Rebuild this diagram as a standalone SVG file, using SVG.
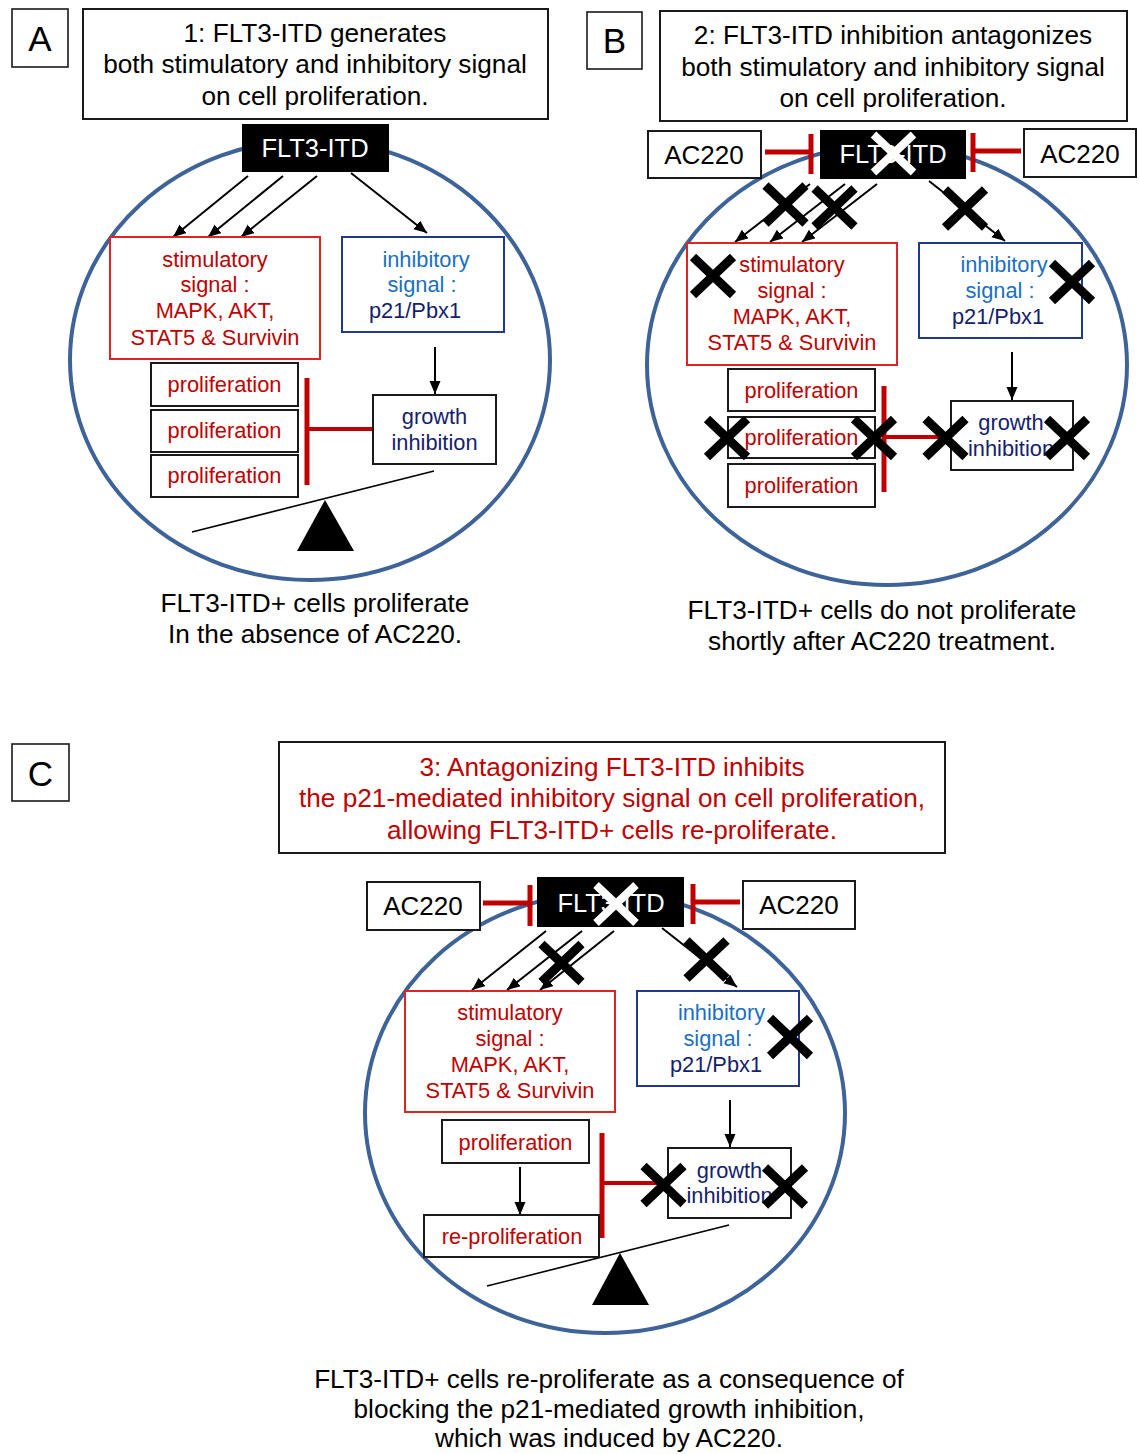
<svg xmlns="http://www.w3.org/2000/svg" xmlns:xlink="http://www.w3.org/1999/xlink" width="1140" height="1454" viewBox="0 0 1140 1454">
<style>
text{font-family:"Liberation Sans",Arial,sans-serif;text-anchor:middle}
.lbl{font-size:35px;fill:#000}
.hd{font-size:26.2px;fill:#000}
.hdr{font-size:26.2px;fill:#c00000}
.s{font-size:21.8px}
.ac{font-size:26px;fill:#000}
.fl{font-size:25.5px;fill:#fff}
.red{fill:#c00000}
.blue{fill:#1a6fc4}
.navy{fill:#14216b}
.box{fill:#fff;stroke:#1a1a1a;stroke-width:2}
.lb{fill:#fff;stroke:#1a1a1a;stroke-width:1.6}
.rbox{fill:#fff;stroke:#e02424;stroke-width:2}
.nbox{fill:#fff;stroke:#1f3a8a;stroke-width:2}
.blk{fill:#000;stroke:none}
.cell{fill:none;stroke:#3d6399;stroke-width:4}
.arr{stroke:#000;stroke-width:2;fill:none;marker-end:url(#ah)}
.inh{stroke:#c00000;stroke-width:5;fill:none}
.inh4{stroke:#c00000;stroke-width:4;fill:none}
.see{stroke:#000;stroke-width:1.6;fill:none}
.xb{stroke:#000;stroke-width:9;fill:none}
.xw{stroke:#fff;stroke-width:8;fill:none}
</style>
<defs>
<marker id="ah" markerUnits="userSpaceOnUse" markerWidth="14" markerHeight="12" refX="13" refY="5.5" orient="auto">
<path d="M0,0 L13,5.5 L0,11 z" fill="#000"/>
</marker>
<path id="xk" d="M-20,-19 L20,19 M-20,19 L20,-19"/>
</defs>

<!-- ===== Panel A ===== -->
<g id="panelA-label"><rect class="lb" x="12" y="9" width="56" height="58"/><text class="lbl" x="40" y="51">A</text></g>
<g id="panelA-header"><rect class="box" x="83" y="9" width="465" height="110"/>
<text class="hd" x="315" y="42">1: FLT3-ITD generates</text>
<text class="hd" x="315" y="73">both stimulatory and inhibitory signal</text>
<text class="hd" x="315" y="105">on cell proliferation.</text></g>
<g id="cellA"><ellipse class="cell" cx="310" cy="360" rx="240" ry="220"/></g>
<g id="A-seesaw"><line class="see" x1="192" y1="532" x2="434" y2="471"/><polygon class="blk" points="325,500 297,551 354,551"/></g>
<g id="A-connectors">
<line class="arr" x1="248" y1="176" x2="173" y2="237"/>
<line class="arr" x1="283" y1="176" x2="208" y2="237"/>
<line class="arr" x1="317" y1="176" x2="241" y2="237"/>
<line class="arr" x1="351" y1="173" x2="427" y2="233"/>
<line class="arr" x1="435" y1="347" x2="435" y2="394"/>
<line class="inh" x1="307" y1="378" x2="307" y2="485"/>
<line class="inh4" x1="307" y1="429" x2="373" y2="429"/>
</g>
<g id="A-flt3"><rect class="blk" x="242" y="124" width="147" height="48"/><text class="fl" x="315" y="157">FLT3-ITD</text></g>
<g id="A-stim"><rect class="rbox" x="110" y="237" width="210" height="122"/>
<text class="s red" x="215" y="266.5">stimulatory</text>
<text class="s red" x="215" y="292">signal :</text>
<text class="s red" x="215" y="318">MAPK, AKT,</text>
<text class="s red" x="215" y="345">STAT5 &amp; Survivin</text></g>
<g id="A-inhib"><rect class="nbox" x="342" y="237" width="162" height="95"/>
<text class="s blue" x="426" y="266.5">inhibitory</text>
<text class="s blue" x="422" y="292">signal :</text>
<text class="s navy" x="415" y="318">p21/Pbx1</text></g>
<g id="A-growth"><rect class="box" x="373" y="395" width="123" height="69"/>
<text class="s navy" x="434.5" y="424">growth</text>
<text class="s navy" x="434.5" y="450">inhibition</text></g>
<g id="A-prolif1"><rect class="box" x="151" y="363" width="147" height="43"/><text class="s red" x="224.5" y="392">proliferation</text></g>
<g id="A-prolif2"><rect class="box" x="151" y="410" width="147" height="42"/><text class="s red" x="224.5" y="438">proliferation</text></g>
<g id="A-prolif3"><rect class="box" x="151" y="455" width="147" height="42"/><text class="s red" x="224.5" y="483">proliferation</text></g>
<g id="A-caption"><text class="hd" x="315" y="612">FLT3-ITD+ cells proliferate</text><text class="hd" x="315" y="643">In the absence of AC220.</text></g>

<!-- ===== Panel B ===== -->
<g id="panelB-label"><rect class="lb" x="587" y="12" width="55" height="57"/><text class="lbl" x="614.5" y="53">B</text></g>
<g id="panelB-header"><rect class="box" x="660" y="11" width="467" height="110"/>
<text class="hd" x="893" y="44">2: FLT3-ITD inhibition antagonizes</text>
<text class="hd" x="893" y="76">both stimulatory and inhibitory signal</text>
<text class="hd" x="893" y="107">on cell proliferation.</text></g>
<g id="cellB"><ellipse class="cell" cx="887" cy="365" rx="240" ry="220"/></g>
<g id="B-connectors">
<line class="arr" x1="810" y1="184" x2="735" y2="242"/>
<line class="arr" x1="845" y1="184" x2="770" y2="242"/>
<line class="arr" x1="877" y1="184" x2="802" y2="242"/>
<line class="arr" x1="929" y1="181" x2="1005" y2="241"/>
<line class="arr" x1="1012" y1="352" x2="1012" y2="400"/>
<line class="inh" x1="884" y1="386" x2="884" y2="492"/>
<line class="inh4" x1="884" y1="437" x2="951" y2="437"/>
<line class="inh" x1="765" y1="152" x2="811" y2="152"/>
<line class="inh" x1="811" y1="134" x2="811" y2="174"/>
<line class="inh" x1="1021" y1="151" x2="973" y2="151"/>
<line class="inh" x1="973" y1="133" x2="973" y2="172"/>
</g>
<g id="B-ac220-left"><rect class="box" x="648" y="131" width="113" height="47"/><text class="ac" x="704" y="164">AC220</text></g>
<g id="B-ac220-right"><rect class="box" x="1024" y="129" width="112" height="48"/><text class="ac" x="1080" y="163">AC220</text></g>
<g id="B-flt3"><rect class="blk" x="820" y="130" width="146" height="49"/><text class="fl" x="893" y="163">FLT3-ITD</text><use href="#xk" x="893.5" y="153.5" class="xw"/></g>
<g id="B-stim"><rect class="rbox" x="687" y="243" width="210" height="122"/>
<text class="s red" x="792" y="272">stimulatory</text>
<text class="s red" x="792" y="298">signal :</text>
<text class="s red" x="792" y="324">MAPK, AKT,</text>
<text class="s red" x="792" y="350">STAT5 &amp; Survivin</text></g>
<g id="B-inhib"><rect class="nbox" x="919" y="243" width="163" height="95"/>
<text class="s blue" x="1004" y="272">inhibitory</text>
<text class="s blue" x="1000" y="298">signal :</text>
<text class="s navy" x="998" y="324">p21/Pbx1</text></g>
<g id="B-growth"><rect class="box" x="951" y="401" width="122" height="69"/>
<text class="s navy" x="1011" y="430">growth</text>
<text class="s navy" x="1011" y="456">inhibition</text></g>
<g id="B-prolif1"><rect class="box" x="728" y="369" width="147" height="42"/><text class="s red" x="801.5" y="398">proliferation</text></g>
<g id="B-prolif2"><rect class="box" x="728" y="417" width="147" height="41"/><text class="s red" x="801.5" y="445">proliferation</text></g>
<g id="B-prolif3"><rect class="box" x="728" y="464" width="147" height="43"/><text class="s red" x="801.5" y="493">proliferation</text></g>
<g id="B-crosses">
<use href="#xk" x="785.5" y="204.5" class="xb"/>
<use href="#xk" x="834.5" y="207.5" class="xb"/>
<use href="#xk" x="965" y="208.5" class="xb"/>
<use href="#xk" x="713" y="276" class="xb"/>
<use href="#xk" x="1072" y="282" class="xb"/>
<use href="#xk" x="727" y="438" class="xb"/>
<use href="#xk" x="874" y="438" class="xb"/>
<use href="#xk" x="945.5" y="438" class="xb"/>
<use href="#xk" x="1067" y="438" class="xb"/>
</g>
<g id="B-caption"><text class="hd" x="882" y="619">FLT3-ITD+ cells do not proliferate</text><text class="hd" x="882" y="650">shortly after AC220 treatment.</text></g>

<!-- ===== Panel C ===== -->
<g id="panelC-label"><rect class="lb" x="12" y="744" width="57" height="57"/><text class="lbl" x="40.5" y="786">C</text></g>
<g id="panelC-header"><rect class="box" x="279" y="742" width="666" height="111"/>
<text class="hdr" x="612" y="776">3: Antagonizing FLT3-ITD inhibits</text>
<text class="hdr" x="612" y="807">the p21-mediated inhibitory signal on cell proliferation,</text>
<text class="hdr" x="612" y="839">allowing FLT3-ITD+ cells re-proliferate.</text></g>
<g id="cellC"><ellipse class="cell" cx="605" cy="1113" rx="240" ry="220"/></g>
<g id="C-seesaw"><line class="see" x1="487" y1="1286" x2="729" y2="1225"/><polygon class="blk" points="620,1253 592,1305 649,1305"/></g>
<g id="C-connectors">
<line class="arr" x1="546" y1="931" x2="472" y2="990"/>
<line class="arr" x1="582" y1="931" x2="507" y2="990"/>
<line class="arr" x1="614" y1="931" x2="540" y2="990"/>
<line class="arr" x1="662" y1="928" x2="737" y2="987"/>
<line class="arr" x1="730" y1="1100" x2="730" y2="1147"/>
<line class="arr" x1="520" y1="1167" x2="520" y2="1215"/>
<line class="inh" x1="602" y1="1133" x2="602" y2="1238"/>
<line class="inh4" x1="602" y1="1183" x2="668" y2="1183"/>
<line class="inh" x1="483" y1="903" x2="530" y2="903"/>
<line class="inh" x1="530" y1="885" x2="530" y2="926"/>
<line class="inh" x1="740" y1="902" x2="693" y2="902"/>
<line class="inh" x1="693" y1="884" x2="693" y2="924"/>
</g>
<g id="C-ac220-left"><rect class="box" x="367" y="882" width="113" height="48"/><text class="ac" x="423" y="915">AC220</text></g>
<g id="C-ac220-right"><rect class="box" x="743" y="881" width="112" height="48"/><text class="ac" x="799" y="914">AC220</text></g>
<g id="C-flt3"><rect class="blk" x="537" y="877" width="147" height="50"/><text class="fl" x="611" y="912">FLT3-ITD</text><use href="#xk" x="616" y="904" class="xw"/></g>
<g id="C-stim"><rect class="rbox" x="405" y="991" width="210" height="121"/>
<text class="s red" x="510" y="1020">stimulatory</text>
<text class="s red" x="510" y="1046">signal :</text>
<text class="s red" x="510" y="1072">MAPK, AKT,</text>
<text class="s red" x="510" y="1098">STAT5 &amp; Survivin</text></g>
<g id="C-inhib"><rect class="nbox" x="637" y="991" width="162" height="95"/>
<text class="s blue" x="721.5" y="1020">inhibitory</text>
<text class="s blue" x="718" y="1046">signal :</text>
<text class="s navy" x="716" y="1072">p21/Pbx1</text></g>
<g id="C-growth"><rect class="box" x="668" y="1148" width="123" height="70"/>
<text class="s navy" x="729.5" y="1178">growth</text>
<text class="s navy" x="729.5" y="1203">inhibition</text></g>
<g id="C-prolif"><rect class="box" x="442" y="1120" width="147" height="43"/><text class="s red" x="515.5" y="1150">proliferation</text></g>
<g id="C-reprolif"><rect class="box" x="424" y="1215" width="175" height="42"/><text class="s red" x="512" y="1244">re-proliferation</text></g>
<g id="C-crosses">
<use href="#xk" x="561.5" y="963" class="xb"/>
<use href="#xk" x="706.5" y="959.5" class="xb"/>
<use href="#xk" x="790" y="1037" class="xb"/>
<use href="#xk" x="663.5" y="1185" class="xb"/>
<use href="#xk" x="785" y="1186.5" class="xb"/>
</g>
<g id="C-caption">
<text class="hd" x="609" y="1388">FLT3-ITD+ cells re-proliferate as a consequence of</text>
<text class="hd" x="609" y="1418">blocking the p21-mediated growth inhibition,</text>
<text class="hd" x="609" y="1447">which was induced by AC220.</text></g>
</svg>
